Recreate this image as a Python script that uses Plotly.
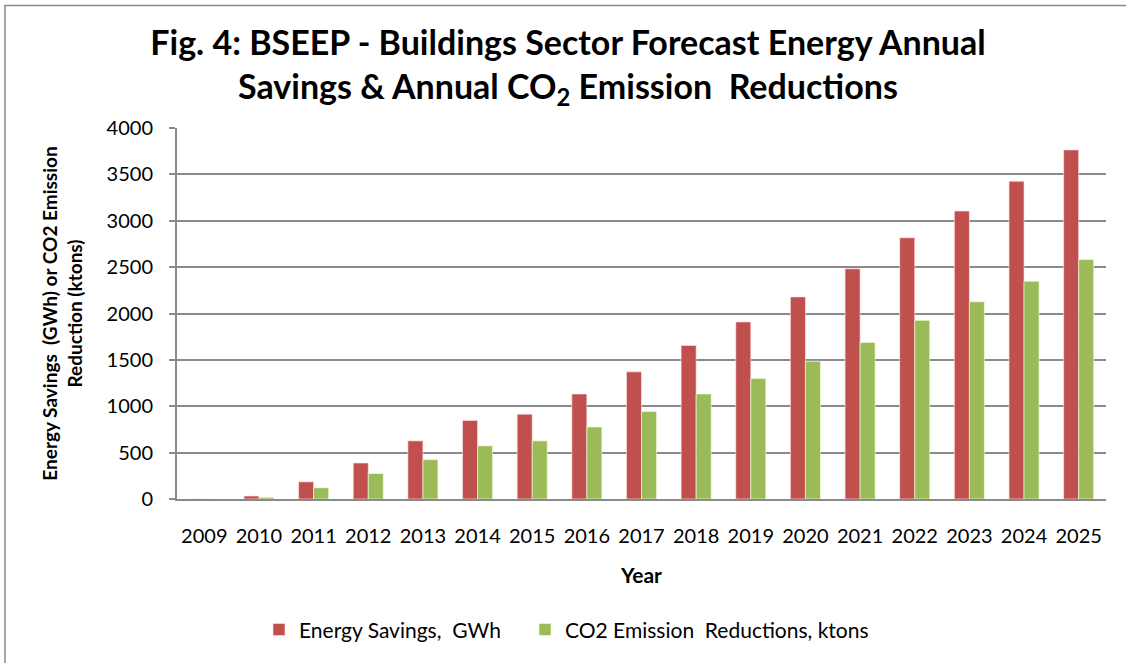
import plotly.graph_objects as go

years = ["2009", "2010", "2011", "2012", "2013", "2014", "2015", "2016", "2017",
         "2018", "2019", "2020", "2021", "2022", "2023", "2024", "2025"]
energy_savings_gwh = [0, 32, 185, 388, 627, 847, 915, 1132, 1371,
                      1656, 1909, 2179, 2482, 2817, 3105, 3426, 3764]
co2_reductions_kt = [0, 18, 121, 274, 424, 573, 627, 776, 944,
                     1132, 1300, 1485, 1688, 1926, 2126, 2347, 2582]
y_ticks = [0, 500, 1000, 1500, 2000, 2500, 3000, 3500, 4000]

RED = "#C0504D"
GREEN = "#9BBB59"
GRID = "#8A8A8A"
FONT = "Lato, Open Sans, sans-serif"

W, H = 1126, 663
PL, PR, PT, PB = 177, 1106, 128, 502   # plot area in pixels
pw, ph = PR - PL, PB - PT

fig = go.Figure()
fig.add_trace(go.Bar(x=years, y=energy_savings_gwh, name="Energy Savings,  GWh",
                     legend="legend",
                     marker=dict(color=RED, line=dict(color="rgba(255,230,230,0.8)", width=0.8))))
fig.add_trace(go.Bar(x=years, y=co2_reductions_kt, name="CO2 Emission  Reductions, ktons",
                     legend="legend2",
                     marker=dict(color=GREEN, line=dict(color="rgba(240,255,225,0.8)", width=0.8))))

legend_common = dict(orientation="h", xanchor="left",
                     y=(PB - 634) / ph, yanchor="middle",
                     font=dict(family=FONT, size=21, color="black"),
                     itemwidth=30, bgcolor="rgba(0,0,0,0)")

fig.update_layout(
    width=W, height=H,
    margin=dict(l=PL, r=W - PR, t=PT, b=H - PB),
    paper_bgcolor="white", plot_bgcolor="white",
    barmode="group", bargap=0.45, bargroupgap=0,
    title=dict(
        text="Fig. 4: BSEEP - Buildings Sector Forecast Energy Annual<br>Savings & Annual CO<sub>2</sub> Emission  Reductions",
        x=568 / W, xref="container", xanchor="center",
        y=1 - 55 / H, yref="container", yanchor="top",
        font=dict(family=FONT, size=34, color="black", weight="bold"),
    ),
    font=dict(family=FONT, color="black"),
    showlegend=True,
    legend=dict(legend_common, x=(259 - PL) / pw),
    legend2=dict(legend_common, x=(525 - PL) / pw),
    xaxis=dict(
        tickmode="array", tickvals=years, ticktext=years,
        tickfont=dict(family=FONT, size=20, color="black"),
        showline=True, linecolor=GRID, linewidth=2,
        ticks="", showgrid=False, ticklabelstandoff=18,
        title=dict(text="<b>Year</b>", font=dict(family=FONT, size=21, color="black"), standoff=22),
    ),
    yaxis=dict(
        range=[0, 4000], tickvals=y_ticks,
        tickfont=dict(family=FONT, size=20, color="black"),
        showline=True, linecolor=GRID, linewidth=2,
        ticks="outside", ticklen=6, tickcolor=GRID, tickwidth=1.5,
        ticklabelstandoff=12,
        showgrid=True, gridcolor=GRID, gridwidth=1.5,
        zeroline=False,
        title=dict(text="<b>Energy Savings  (GWh) or CO2 Emission<br>Reduction (ktons)</b>",
                   font=dict(family=FONT, size=19, color="black"), standoff=19),
    ),
    shapes=[dict(type="rect", xref="paper", yref="paper",
                 x0=(5 - PL) / pw, x1=(W + 20 - PL) / pw,
                 y0=(PB - (H + 20)) / ph, y1=(PB - 4.5) / ph,
                 line=dict(color=GRID, width=1.5), fillcolor="rgba(0,0,0,0)", layer="below")],
)

fig.write_html("out.html", config={"displayModeBar": False},
               post_script="document.body.style.margin='0px';document.body.style.overflow='hidden';")
